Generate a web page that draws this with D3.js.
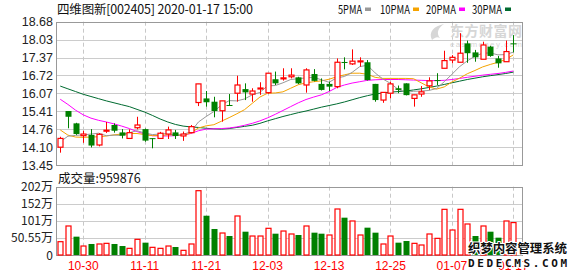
<!DOCTYPE html>
<html><head><meta charset="utf-8">
<script src="https://cdn.jsdelivr.net/npm/d3@7"></script>
<style>body{margin:0;background:#fff}svg{display:block}</style>
</head><body><svg id="c" width="578" height="276"></svg>
<script>
const dates = ["10-25","10-28","10-29","10-30","10-31","11-01","11-04","11-05","11-06","11-07",
"11-08","11-11","11-12","11-13","11-14","11-15","11-18","11-19","11-20","11-21",
"11-22","11-25","11-26","11-27","11-28","11-29","12-02","12-03","12-04","12-05",
"12-06","12-09","12-10","12-11","12-12","12-13","12-16","12-17","12-18","12-19",
"12-20","12-23","12-24","12-25","12-26","12-27","12-30","12-31","01-02","01-03",
"01-06","01-07","01-08","01-09","01-10","01-13","01-14","01-15","01-16","01-17"];
const openP = [14.10,15.42,14.97,14.52,14.55,14.18,14.70,14.91,14.64,14.42,
14.81,14.76,14.43,14.42,14.58,14.64,14.51,14.63,15.73,15.88,
15.76,15.43,15.64,16.07,16.22,16.04,16.24,16.09,16.58,16.61,
16.67,16.65,16.37,16.77,16.41,16.41,16.31,17.21,17.14,17.22,
17.20,16.41,15.82,16.07,16.25,16.43,15.88,16.04,16.34,16.55,
16.98,17.28,17.20,17.89,17.56,17.31,17.77,17.34,17.22,17.89];
const highP = [14.48,15.42,14.99,14.70,14.76,14.61,15.02,14.97,14.76,14.75,
15.21,14.78,14.43,14.66,14.85,14.73,14.67,14.91,16.41,16.15,
15.94,15.79,16.04,16.71,16.43,16.25,16.47,16.80,16.86,16.98,
16.98,16.67,16.98,16.95,16.61,16.49,17.34,17.38,17.67,17.38,
17.28,16.41,16.10,16.49,16.35,16.43,16.01,16.33,16.65,16.80,
17.62,17.46,18.26,17.99,17.65,17.95,17.80,17.43,17.99,18.19];
const lowP = [13.90,14.79,14.55,14.26,14.09,14.13,14.62,14.63,14.42,14.42,
14.75,14.30,14.06,14.42,14.40,14.40,14.33,14.61,15.60,15.58,
15.19,15.03,15.62,15.76,15.82,15.76,16.01,16.05,16.37,16.53,
16.61,16.40,16.09,16.50,16.17,16.15,16.25,16.94,17.10,17.04,
16.53,15.76,15.72,15.88,16.07,15.99,15.58,15.94,16.19,16.37,
16.98,17.16,17.20,17.18,17.22,17.31,17.40,17.00,17.22,17.56];
const closeP = [14.42,15.21,14.58,14.58,14.16,14.57,14.72,14.70,14.52,14.63,
14.91,14.34,14.42,14.61,14.73,14.51,14.58,14.85,16.41,15.74,
15.42,15.79,15.63,16.37,16.10,16.15,16.26,16.80,16.43,16.63,
16.73,16.43,16.92,16.52,16.19,16.31,17.20,17.19,17.24,17.25,
16.55,15.82,16.10,16.41,16.19,16.00,16.01,16.12,16.52,16.53,
17.26,17.38,17.53,17.53,17.38,17.83,17.43,17.16,17.59,17.86];
// volume in 万
const volume = [39.4,85.9,54.3,26.6,32.6,32.6,34.5,32.6,26.6,19.7,
46.4,36.5,22.7,19.7,26.6,23.7,13.8,32.6,190.4,116.3,
77.0,65.1,56.2,115.5,69.0,56.2,56.2,79.0,63.1,71.0,
62.2,59.2,85.9,66.1,63.1,59.2,136.2,110.5,100.7,59.2,
80.9,66.1,32.6,56.2,36.5,41.4,34.5,29.6,62.2,49.3,
135.2,74.0,135.2,91.8,56.2,85.9,69.0,51.3,100.7,95.99];
const ma5 = [14.30,14.50,14.53,14.55,14.58,14.61,14.52,14.54,14.53,14.63,
14.70,14.62,14.56,14.58,14.60,14.52,14.57,14.66,15.02,15.22,
15.40,15.64,15.80,15.79,15.86,16.01,16.10,16.34,16.35,16.45,
16.57,16.60,16.63,16.65,16.56,16.47,16.63,16.68,16.83,17.04,
17.09,16.81,16.59,16.43,16.21,16.10,16.14,16.15,16.17,16.24,
16.49,16.76,17.04,17.25,17.42,17.53,17.54,17.47,17.48,17.57];
const ma10 = [14.73,14.54,14.47,14.46,14.47,14.48,14.51,14.55,14.58,14.60,
14.60,14.56,14.52,14.53,14.55,14.55,14.53,14.62,14.80,14.88,
14.92,15.05,15.18,15.32,15.47,15.70,15.93,16.07,16.08,16.12,
16.25,16.38,16.45,16.49,16.52,16.58,16.67,16.74,16.80,16.80,
16.76,16.65,16.61,16.61,16.61,16.61,16.60,16.45,16.30,16.22,
16.30,16.48,16.62,16.78,16.90,17.03,17.12,17.20,17.30,17.47];
const ma20 = [15.85,15.66,15.45,15.28,15.16,15.08,15.02,14.95,14.87,14.78,
14.67,14.58,14.52,14.51,14.51,14.52,14.54,14.60,14.70,14.76,
14.77,14.78,14.80,14.84,14.90,14.97,15.06,15.17,15.30,15.44,
15.58,15.72,15.84,15.93,16.01,16.13,16.28,16.37,16.44,16.49,
16.54,16.56,16.57,16.57,16.57,16.56,16.55,16.54,16.53,16.53,
16.54,16.57,16.61,16.65,16.69,16.73,16.76,16.79,16.83,16.88];
const ma30 = [16.33,16.23,16.13,16.03,15.95,15.87,15.79,15.72,15.65,15.58,
15.48,15.38,15.26,15.13,15.02,14.93,14.87,14.84,14.82,14.79,
14.77,14.76,14.78,14.82,14.86,14.90,14.97,15.06,15.14,15.22,
15.29,15.36,15.42,15.49,15.56,15.62,15.68,15.75,15.83,15.91,
15.98,16.04,16.08,16.11,16.13,16.15,16.19,16.23,16.28,16.33,
16.39,16.45,16.51,16.57,16.62,16.67,16.71,16.75,16.79,16.84];
const priceTicks = [13.45,14.10,14.76,15.41,16.07,16.72,17.37,18.03,18.68];
const volTicks = [0,50.55,101.1,151.65,202.2];
const volTickLabels = ["0","50.55万","101万","152万","202万"];
const xTickDates = ["10-30","11-11","11-21","12-03","12-13","12-25","01-07","01-17"];
const maNames = ["5PMA","10PMA","20PMA","30PMA"];
const titleText = "四维图新[002405] 2020-01-17 15:00";
const volTitle = "成交量:959876";

const RED="#ff0000", GREEN="#008000";
const maColors = ["#999999","#f5a300","#ff00ff","#006b30"];
const svg = d3.select("#c");
svg.append("rect").attr("width",578).attr("height",276).attr("fill","#fff");

const L=56, R=522, PT=21.7, PB=165, VT=186.7, VB=255;
const x = d3.scaleBand().domain(dates).range([56.4, 517.2]);
const cx = d => x(d) + x.bandwidth()/2;
const y = d3.scaleLinear().domain([13.45,18.68]).range([PB,PT]);
const yv = d3.scaleLinear().domain([0,202.2]).range([VB,VT]);
const px = v => Math.round(v)+0.5;

const font = "'Liberation Sans', Arial, sans-serif";
const cjk = "'Noto Sans CJK SC', sans-serif";

// price grid
const g = svg.append("g");
g.selectAll(".hg").data(priceTicks).join("line")
  .attr("x1",L).attr("x2",R).attr("y1",d=>px(y(d))).attr("y2",d=>px(y(d)))
  .attr("stroke","#cccccc");
g.selectAll(".vg").data(xTickDates).join("line")
  .attr("x1",d=>px(cx(d))).attr("x2",d=>px(cx(d))).attr("y1",PT).attr("y2",PB)
  .attr("stroke","#c8c8c8").attr("stroke-dasharray","4,3");
g.append("rect").attr("x",L+0.5).attr("y",px(PT)).attr("width",R-L).attr("height",Math.round(PB)-Math.round(PT))
  .attr("fill","none").attr("stroke","#999");
g.selectAll(".pl").data(priceTicks).join("text")
  .attr("x",53).attr("y",d=>y(d)+4.5).attr("text-anchor","end")
  .attr("font-family",font).attr("font-size",12.5).attr("fill","#222")
  .text(d=>d.toFixed(2));

// volume grid
g.selectAll(".vhg").data(volTicks).join("line")
  .attr("x1",L).attr("x2",R).attr("y1",d=>px(yv(d))).attr("y2",d=>px(yv(d)))
  .attr("stroke","#cccccc");
g.selectAll(".vvg").data(xTickDates).join("line")
  .attr("x1",d=>px(cx(d))).attr("x2",d=>px(cx(d))).attr("y1",VT).attr("y2",VB)
  .attr("stroke","#c8c8c8").attr("stroke-dasharray","4,3");
g.append("rect").attr("x",L+0.5).attr("y",px(VT)).attr("width",R-L).attr("height",Math.round(VB)-Math.round(VT))
  .attr("fill","none").attr("stroke","#999");
g.selectAll(".vl").data(volTicks).join("text")
  .attr("x",53).attr("y",d=>yv(d)+4.5).attr("text-anchor","end")
  .attr("font-family",cjk).attr("font-size",12).attr("fill","#222")
  .text((d,i)=>volTickLabels[i]);

// x labels
g.selectAll(".xl").data(xTickDates).join("text")
  .attr("x",d=>cx(d)).attr("y",270).attr("text-anchor","middle")
  .attr("font-family",font).attr("font-size",12).attr("fill",RED)
  .text(d=>d);

// watermark eastmoney
const wm = svg.append("g").attr("fill","#d6d6d6");
wm.append("path").attr("d","M432,40 C428,32 434,26 444,24 C438,28 436,33 440,38 C437,36 434,38 432,40 Z");
wm.append("text").attr("x",450).attr("y",36).attr("font-family",cjk).attr("font-size",14).attr("font-weight","bold").attr("textLength",72).text("东方财富网");
wm.append("text").attr("x",450).attr("y",47).attr("font-family",font).attr("font-size",8).attr("textLength",72).text("eastmoney.com");

// MA lines
const mas=[ma5,ma10,ma20,ma30];
const line = d3.line().x((d,i)=>cx(dates[i])).y(d=>y(d));
[3,2,1,0].forEach(k=>{
  svg.append("path").attr("d",line(mas[k])).attr("fill","none")
    .attr("stroke",maColors[k]).attr("stroke-width",1);
});

// candles
const bw = 5;
const cg = svg.append("g");
dates.forEach((d,i)=>{
  const o=openP[i], c=closeP[i], up=c>=o, col=up?RED:GREEN;
  const xc = Math.round(cx(d))+0.5;
  const yt = y(Math.max(o,c)), yb = y(Math.min(o,c));
  cg.append("line").attr("x1",xc).attr("x2",xc).attr("y1",y(highP[i])).attr("y2",y(lowP[i])).attr("stroke",col);
  const h = Math.max(1, yb-yt);
  if (up) {
    cg.append("rect").attr("x",xc-bw/2).attr("y",yt).attr("width",bw).attr("height",h)
      .attr("fill","#fff").attr("stroke",col).attr("stroke-width",1.2);
  } else {
    cg.append("rect").attr("x",xc-bw/2-0.5).attr("y",yt).attr("width",bw+1).attr("height",h)
      .attr("fill",col);
  }
});

// volume bars
dates.forEach((d,i)=>{
  const prev = i>0 ? closeP[i-1] : openP[i];
  const up = closeP[i] >= prev, col = up?RED:GREEN;
  const xc = Math.round(cx(d))+0.5;
  const yt = yv(volume[i]);
  if (up) {
    cg.append("rect").attr("x",xc-bw/2).attr("y",yt).attr("width",bw).attr("height",VB-yt)
      .attr("fill","#fff").attr("stroke",col).attr("stroke-width",1.2);
  } else {
    cg.append("rect").attr("x",xc-bw/2-0.5).attr("y",yt).attr("width",bw+1).attr("height",VB-yt)
      .attr("fill",col);
  }
});

// titles
svg.append("text").attr("x",57).attr("y",14).attr("font-family",cjk).attr("font-size",12.5)
  .attr("fill","#111").attr("textLength",196).text(titleText);
svg.append("text").attr("x",58).attr("y",183).attr("font-family",cjk).attr("font-size",12.5)
  .attr("fill","#111").text(volTitle);

// legend
const legX = [338,380,426,472];
const legW = [24,30,30,30];
maNames.forEach((n,i)=>{
  svg.append("text").attr("x",legX[i]).attr("y",14).attr("font-family",cjk).attr("font-size",12)
    .attr("fill","#111").attr("textLength",legW[i]).attr("lengthAdjust","spacingAndGlyphs").text(n);
  svg.append("rect").attr("x",legX[i]+legW[i]+3).attr("y",7.5).attr("width",6).attr("height",3.5).attr("fill",maColors[i]);
});

// dedecms watermark (overlays the chart like in the reference)
const dw = svg.append("g").attr("font-weight","bold").attr("fill","#111")
  .attr("stroke","#fff").attr("stroke-width",2).attr("paint-order","stroke").attr("stroke-linejoin","round");
dw.append("text").attr("x",468).attr("y",253).attr("font-family",cjk).attr("font-size",12.5).attr("textLength",99).text("织梦内容管理系统");
dw.append("text").attr("x",468).attr("y",266.5).attr("font-family","'DejaVu Sans Mono', monospace").attr("font-size",11).attr("textLength",99).text("DEDECMS.COM");
</script></body></html>
